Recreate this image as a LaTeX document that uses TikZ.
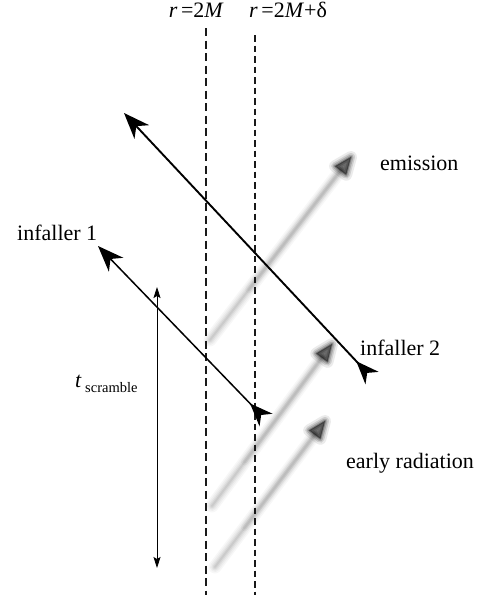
\documentclass[tikz,border=0pt]{standalone}
\usepackage{fontspec}
\setmainfont{Liberation Serif}
\usetikzlibrary{arrows.meta,calc}
\begin{document}
\begin{tikzpicture}[x=1pt,y=-1pt,
  lbl/.style={inner sep=0pt,font=\fontsize{22}{26}\selectfont},
  horizonA/.style={line width=2.1pt,dash pattern=on 8pt off 4.5pt,black!90},
  horizonB/.style={line width=2.8pt,dash pattern=on 6.5pt off 4pt,black!90},
  infaller/.style={
    {Stealth[reversed,length=23pt,width=18pt,inset=7pt]}-{Stealth[length=26pt,width=20pt,inset=8pt]}},
  scramblearrow/.style={line width=0.8pt,
    {Stealth[length=11pt,width=7pt,inset=2pt]}-{Stealth[length=11pt,width=7pt,inset=2pt]}}]
\useasboundingbox (0,0) rectangle (489,595);

% blurred radiation arrows
\newcommand\blurarrow[3]{%
  \coordinate (#3base) at ($(#2)!17pt!(#1)$);
  \coordinate (#3mid) at ($(#1)!0.3!(#3base)$);
  \coordinate (#3b1) at ($(#3base)!7pt!90:(#1)$);
  \coordinate (#3b2) at ($(#3base)!7pt!-90:(#1)$);
  \foreach \w/\o in {13/0.03,10/0.035,7/0.045,4.5/0.05,2/0.06}{
    \draw[line width=\w pt,black,opacity=\o,line cap=round] (#1) -- (#3base);
  }
  \foreach \w/\o in {8/0.03,4/0.04}{
    \draw[line width=\w pt,black,opacity=\o,line cap=round] (#3mid) -- (#3base);
  }
  \foreach \w/\o in {12/0.08,8/0.12,5/0.17,2/0.25}{
    \filldraw[line width=\w pt,black,opacity=\o,line join=round] (#2) -- (#3b1) -- (#3b2) -- cycle;
  }
}
\coordinate (e1t) at (210,340);  \coordinate (e1h) at (351,157);
\coordinate (e2t) at (212,506);  \coordinate (e2h) at (332,344);
\coordinate (e3t) at (215,567);  \coordinate (e3h) at (325,421);
\blurarrow{e1t}{e1h}{ea}
\blurarrow{e2t}{e2h}{eb}
\blurarrow{e3t}{e3h}{ec}

% horizons
\coordinate (hAtop) at (206,28);  \coordinate (hAbot) at (206,595);
\coordinate (hBtop) at (255,35);  \coordinate (hBbot) at (255,595);
\draw[horizonA] (hAtop) -- (hAbot);
\draw[horizonB] (hBtop) -- (hBbot);

% infallers
\coordinate (i1b) at (266,420);  \coordinate (i1t) at (98,246);
\coordinate (i2b) at (372,378);  \coordinate (i2t) at (124,113);
\draw[infaller,line width=1.5pt] (i1b) -- (i1t);
\draw[infaller,line width=1.9pt] (i2b) -- (i2t);

% scrambling time
\coordinate (sb) at (157,568);  \coordinate (st) at (157,287);
\draw[scramblearrow] (sb) -- (st);

% labels
\node[lbl,anchor=base east] (l2m) at (224,17) {\textit{r}\,=2\textit{M}};
\node[lbl,anchor=base west] (l2md) at (249,17) {\textit{r}\,=2\textit{M}+δ};
\node[lbl,anchor=base west] (lem) at (380,170) {emission};
\node[lbl,anchor=base west] (li1) at (17,240) {infaller 1};
\node[lbl,anchor=base west] (li2) at (360,355) {infaller 2};
\node[lbl,anchor=base west] (ler) at (346,468) {early radiation};
\node[lbl,anchor=base west] (lt) at (75,387) {\textit{t}};
\node[inner sep=0pt,anchor=base west,font=\fontsize{14.5}{16}\selectfont] (lts) at (85,392) {scramble};
\end{tikzpicture}
\end{document}
